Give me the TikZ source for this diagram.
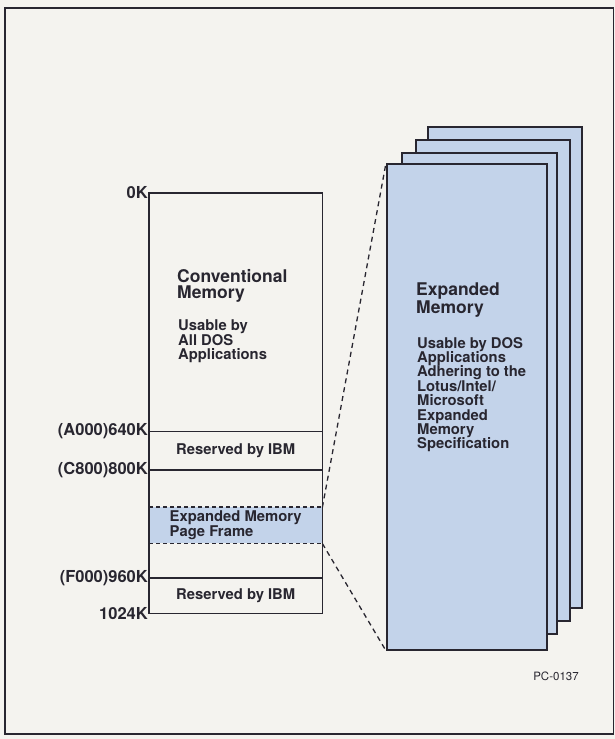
\documentclass[tikz,border=0pt]{standalone}
\usepackage{fontspec}
\setmainfont{TeX Gyre Heros}
\usepackage{xcolor}
\usepackage{tikz}
\definecolor{paper}{RGB}{244,243,239}
\definecolor{ink}{RGB}{40,38,48}
\definecolor{emsblue}{RGB}{195,211,234}
\tikzset{
  memline/.style={draw=ink, line width=1.8pt},
  seg/.style={anchor=north west, inner sep=0pt, minimum width=173pt,
    align=left, font=\fontsize{14.8}{14}\selectfont\bfseries, text=ink},
  pfseg/.style={seg, fill=emsblue},
  addr/.style={anchor=east, inner sep=1pt,
    font=\fontsize{16.5}{18}\selectfont\bfseries, text=ink},
  ttl/.style={anchor=north west, inner sep=0pt, align=left,
    font=\fontsize{17.5}{16.2}\selectfont\bfseries, text=ink},
  bodytxt/.style={anchor=north west, inner sep=0pt, align=left,
    font=\fontsize{14.8}{14.4}\selectfont\bfseries, text=ink},
  emspage/.style={anchor=north west, draw=ink, fill=emsblue,
    line width=1.8pt, inner sep=0pt},
  % dashed "lanes"
  dotsep/.style={ink, line width=1.6pt, dash pattern=on 4pt off 3pt},
  zoomline/.style={ink, line width=1.3pt, dash pattern=on 5pt off 4pt},
}

\begin{document}
\begin{tikzpicture}[x=1pt, y=-1pt]
\useasboundingbox (0,0) rectangle (615,739);
\fill[paper] (0,0) rectangle (615,739);
\draw[ink, line width=1.8pt] (5,8) rectangle (613.5,734);

% ---------- expanded memory pages ----------
\foreach \n/\l/\t/\w in {3/427/126/154, 2/415/139/154, 1/401/152/155}
  \node[emspage, minimum width=\w pt, minimum height=481pt] (pg\n) at (\l,\t) {};
\node[emspage, minimum width=160pt, minimum height=486pt] (pg0) at (386,163) {};

\node[ttl]     (emsttl) at (416,283) {Expanded\\Memory};
\node[bodytxt] (emstxt) at (417,337) {Usable by DOS\\Applications\\Adhering to the\\Lotus/Intel/\\Microsoft\\Expanded\\Memory\\Specification};

% ---------- memory map ----------
\node[seg,   minimum height=238pt] (conv)  at (149,193) {};
\node[seg,   minimum height=38pt]  (res1)  at (conv.south west) {Reserved by IBM};
\node[seg,   minimum height=37pt]  (free1) at (res1.south west) {};
\node[pfseg, minimum height=36pt]  (pf)    at (free1.south west) {Expanded Memory\\Page Frame};
\node[seg,   minimum height=34pt]  (free2) at (pf.south west) {};
\node[seg,   minimum height=35pt]  (res2)  at (free2.south west) {Reserved by IBM};

\draw[memline] (conv.north west) rectangle (res2.south east);
\draw[memline] (conv.south west) -- (conv.south east)
               (res1.south west) -- (res1.south east)
               (free2.south west) -- (free2.south east);
\draw[dotsep] (pf.north west) -- (pf.north east)
              (pf.south west) -- (pf.south east);

\node[ttl]     (convttl) at (177,269) {Conventional\\Memory};
\node[bodytxt] (convtxt) at (178,320) {Usable by\\All DOS\\Applications};

% ---------- addresses ----------
\node[addr] (k0)    at (conv.north west)  {0K};
\node[addr] (k640)  at (res1.north west)  {(A000)640K};
\node[addr] (k800)  at (free1.north west) {(C800)800K};
\node[addr] (k960)  at (res2.north west)  {(F000)960K};
\node[addr] (k1024) at (res2.south west)  {1024K};

% ---------- page frame mapping ----------
\draw[zoomline] (pf.north east) -- (pg0.north west);
\draw[zoomline] (pf.south east) -- (pg0.south west);

\node[font=\fontsize{11.5}{13}\selectfont, text=ink] (pcid) at (556,676) {PC-0137};

\end{tikzpicture}
\end{document}
